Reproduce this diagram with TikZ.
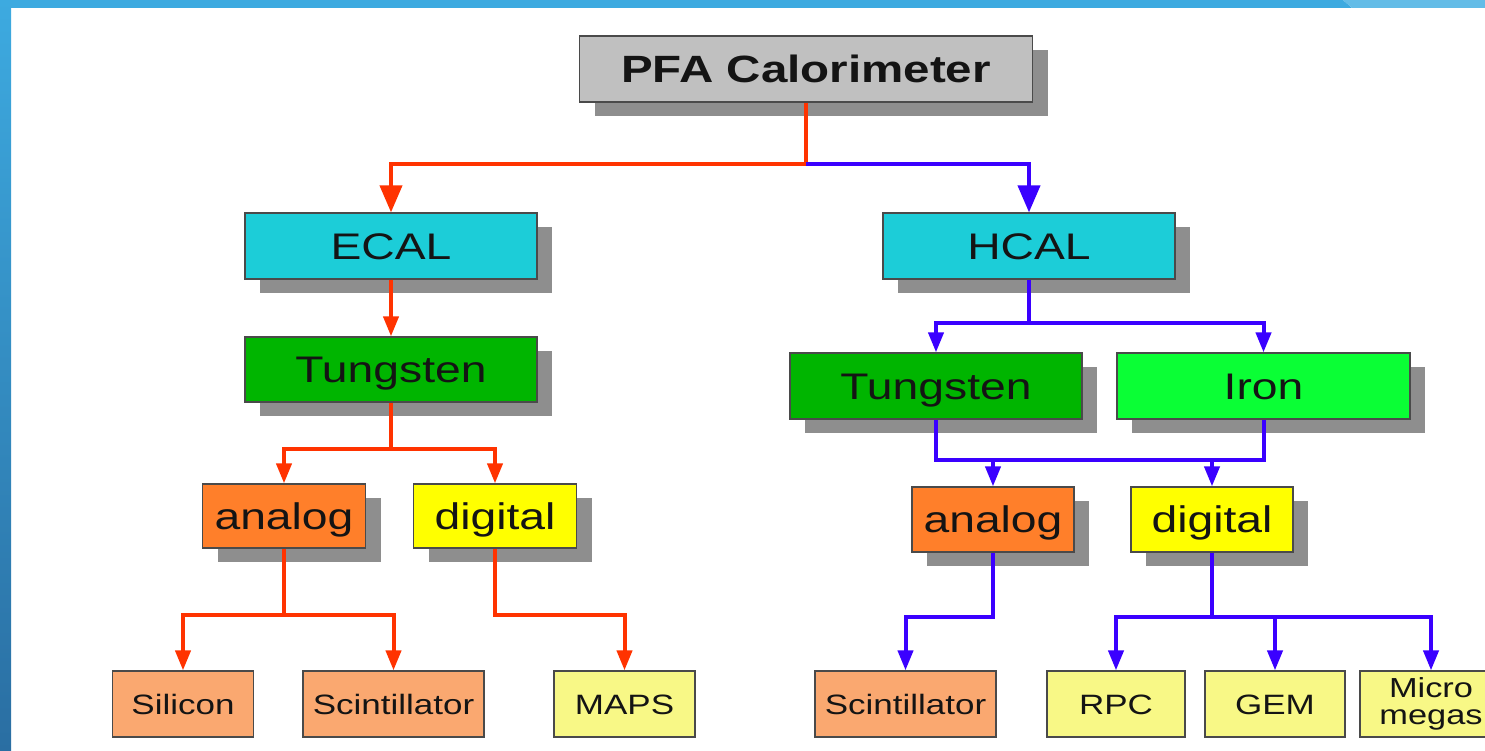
\documentclass[tikz,border=0pt]{standalone}
\usepackage{fontspec}
\setmainfont{Liberation Sans}[FakeStretch=1.25]
\usetikzlibrary{arrows.meta,shadows}
\definecolor{barblue}{HTML}{3DAAE0}
\definecolor{barlight}{HTML}{63BCE7}
\definecolor{stripbot}{HTML}{2A6EA2}
\definecolor{boxborder}{HTML}{4A4A4A}
\definecolor{textcol}{HTML}{141414}
\definecolor{shadowgray}{HTML}{8E8E8E}
\definecolor{topgray}{HTML}{C0C0C0}
\definecolor{calcyan}{HTML}{1CCDD8}
\definecolor{tgreen}{HTML}{00B500}
\definecolor{igreen}{HTML}{0AFF35}
\definecolor{anorange}{HTML}{FF7F2A}
\definecolor{diyellow}{HTML}{FFFF00}
\definecolor{lorange}{HTML}{FAA870}
\definecolor{lyellow}{HTML}{F8F886}
\definecolor{redline}{HTML}{FF3300}
\definecolor{blueline}{HTML}{3A00FF}
\tikzset{
  box/.style={draw=boxborder, line width=1.2pt, inner sep=0pt, text=textcol,
    text depth=0pt, align=center},
  midfont/.style={font=\fontsize{37}{40}\selectfont, text height=26.5pt},
  lowfont/.style={font=\fontsize{28}{30}\selectfont, text height=20pt},
  shadowed/.style={drop shadow={shadow xshift=15pt, shadow yshift=-14pt,
    fill=shadowgray, opacity=1, draw=none}},
  upperbox/.style={box, shadowed, midfont, minimum width=292pt, minimum height=66pt},
  smallbox/.style={box, shadowed, midfont, minimum width=163pt, minimum height=64pt},
  leafbox/.style={box, lowfont, minimum height=66pt},
  redc/.style={draw=redline, line width=4pt},
  bluec/.style={draw=blueline, line width=4pt},
  tipA/.style={-{Triangle[length=27pt,width=22pt]}},
  tipB/.style={-{Triangle[length=20pt,width=15pt]}},
}
\begin{document}
\begin{tikzpicture}[x=1pt,y=-1pt]
\useasboundingbox (0,0) rectangle (1485,751);
\clip (0,0) rectangle (1485,751);
\fill[white] (0,0) rectangle (1485,751);
% frame decoration
\fill[barblue] (0,0) -- (1343,0) -- (1352,8) -- (0,8) -- cycle;
\fill[barlight] (1343,0) -- (1485,0) -- (1485,8) -- (1352,8) -- cycle;
\shade[top color=barblue, bottom color=stripbot] (0,0) rectangle (11,751);

% nodes
\node[box, shadowed, fill=topgray, minimum width=453pt, minimum height=66pt,
  font=\fontsize{38}{40}\selectfont\bfseries, text height=27.5pt] (pfa) at (806,69) {PFA Calorimeter};
\node[upperbox, fill=calcyan] (ecal) at (391,246) {ECAL};
\node[upperbox, fill=calcyan] (hcal) at (1029,246) {HCAL};
\node[upperbox, fill=tgreen, minimum height=65pt] (tungL) at (391,369.5) {Tungsten};
\node[upperbox, fill=tgreen] (tungR) at (936,386) {Tungsten};
\node[upperbox, fill=igreen, minimum width=293pt] (iron) at (1263.5,386) {Iron};
\node[smallbox, fill=anorange] (anaL) at (284,516) {analog};
\node[smallbox, fill=diyellow] (digL) at (495,516) {digital};
\node[smallbox, fill=anorange, minimum width=162pt, minimum height=65pt] (anaR) at (993,519.5) {analog};
\node[smallbox, fill=diyellow, minimum width=162pt, minimum height=65pt] (digR) at (1212,519.5) {digital};
\node[leafbox, fill=lorange, minimum width=141pt] (sil) at (183,704) {Silicon};
\node[leafbox, fill=lorange, minimum width=181pt] (sciL) at (393.5,704) {Scintillator};
\node[leafbox, fill=lyellow, minimum width=141pt] (maps) at (624.5,704) {MAPS};
\node[leafbox, fill=lorange, minimum width=181pt] (sciR) at (905.5,704) {Scintillator};
\node[leafbox, fill=lyellow, minimum width=138pt] (rpc) at (1116,704) {RPC};
\node[leafbox, fill=lyellow, minimum width=140pt] (gem) at (1275,704) {GEM};
\node[leafbox, fill=lyellow, minimum width=142pt, text height=, text depth=,
  font=\fontsize{27.5}{27}\selectfont] (micro) at (1431,704) {Micro\\megas};

% connectors
\coordinate (j0) at (806,164);
\draw[redc, tipA] (pfa.south) -- (j0) -| (ecal.north);
\draw[bluec, tipA] (j0) -| (hcal.north);

\draw[redc, tipB] (ecal.south) -- (tungL.north);
\coordinate (jt) at (391,449);
\draw[redc, tipB] (tungL.south) -- (jt) -| (anaL.north);
\draw[redc, tipB] (jt) -| (digL.north);
\coordinate (ja) at (284,615);
\draw[redc, tipB] (anaL.south) -- (ja) -| (sil.north);
\draw[redc, tipB] (ja) -| (sciL.north);
\coordinate (jd) at (495,615);
\draw[redc, tipB] (digL.south) -- (jd) -| (maps.north);

\coordinate (jh) at (1029,323);
\draw[bluec, tipB] (hcal.south) -- (jh) -| (tungR.north);
\draw[bluec, tipB] (jh) -| (iron.north);
\coordinate (m1) at (936,460);
\coordinate (m2) at (1263.5,460);
\draw[bluec] (tungR.south) -- (m1) -- (m2) -- (iron.south);
\coordinate (ka) at (993,460);
\coordinate (kd) at (1212,460);
\draw[bluec, tipB] (ka) -- (anaR.north);
\draw[bluec, tipB] (kd) -- (digR.north);
\coordinate (jr) at (993,617);
\draw[bluec, tipB] (anaR.south) -- (jr) -| (sciR.north);
\coordinate (jq) at (1212,617);
\draw[bluec, tipB] (digR.south) -- (jq) -| (rpc.north);
\draw[bluec, tipB] (jq) -| (gem.north);
\draw[bluec, tipB] (jq) -| (micro.north);
\end{tikzpicture}
\end{document}
